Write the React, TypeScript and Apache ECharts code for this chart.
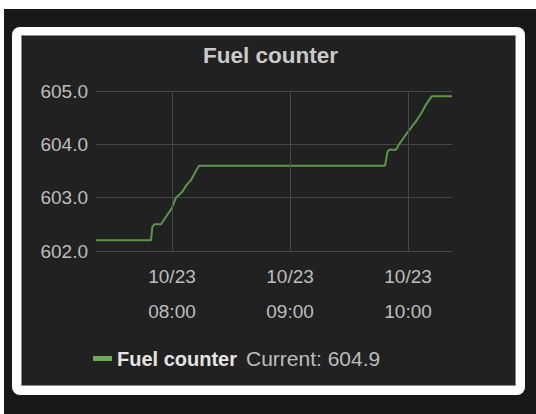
import React, { useEffect, useRef } from "react";
import * as echarts from "echarts";

const DATE = "2023-10-23";
const SERIES_NAME = "Fuel counter";
const times = [
  "07:21:22", "07:49:18", "07:50:00", "07:51:00", "07:54:24", "07:57:18", "07:59:51",
  "08:02:00", "08:05:00", "08:07:28", "08:09:40", "08:11:42", "08:13:44", "09:48:18",
  "09:49:30", "09:50:20", "09:53:54", "09:55:06", "09:57:18", "09:59:18", "10:01:54",
  "10:04:24", "10:07:00", "10:09:12", "10:12:00", "10:22:20",
];
const values = [
  602.2, 602.2, 602.45, 602.5, 602.5, 602.66, 602.8,
  603.0, 603.1, 603.24, 603.33, 603.47, 603.6, 603.6,
  603.85, 603.9, 603.9, 603.98, 604.1, 604.2, 604.33,
  604.45, 604.6, 604.75, 604.9, 604.9,
];
const hourTicks = ["08:00", "09:00", "10:00"];
const yMin = 602;
const yMax = 605;
const yInterval = 1;

const toMs = (t: string) => new Date(`${DATE}T${t}`).getTime();
const pad = (n: number) => String(n).padStart(2, "0");
const FONT = "Liberation Sans, Arial, sans-serif";

export default function App() {
  const ref = useRef<HTMLDivElement>(null);
  useEffect(() => {
    if (!ref.current) return;
    const chart = echarts.init(ref.current, null, { renderer: "svg" });
    const data = times.map((t, i) => [toMs(t), values[i]]);
    const last = values[values.length - 1];
    chart.setOption({
      animation: false,
      backgroundColor: "transparent",
      title: {
        text: SERIES_NAME,
        left: 203,
        top: 44,
        padding: 0,
        textStyle: { color: "#cacaca", fontSize: 22.5, fontWeight: "bold", fontFamily: FONT },
      },
      grid: { left: 96, right: 84, top: 91, bottom: 163 },
      legend: {
        data: [SERIES_NAME],
        left: 93,
        top: 348,
        padding: 0,
        icon: "rect",
        itemWidth: 19,
        itemHeight: 5,
        itemGap: 6,
        selectedMode: false,
        formatter: (name: string) => `{b|${name}}{c|Current: ${last.toFixed(1)}}`,
        textStyle: {
          fontFamily: FONT,
          rich: {
            b: { fontSize: 20, fontWeight: "bold", color: "#e4e4e4", fontFamily: FONT },
            c: { fontSize: 21, color: "#bdbdbd", padding: [0, 0, 0, 9], fontFamily: FONT },
          },
        },
      },
      xAxis: {
        type: "time",
        min: toMs(times[0]),
        max: toMs(times[times.length - 1]),
        minInterval: 3600 * 1000,
        maxInterval: 3600 * 1000,
        axisLine: { show: false },
        axisTick: { show: false },
        splitLine: { show: false },
        axisLabel: {
          color: "#bdbdbd",
          fontSize: 19,
          lineHeight: 35,
          margin: 8,
          hideOverlap: false,
          fontFamily: FONT,
          formatter: (v: number) => {
            const d = new Date(v);
            if (d.getMinutes() !== 0 || d.getSeconds() !== 0) return "";
            return `${pad(d.getMonth() + 1)}/${pad(d.getDate())}\n${pad(d.getHours())}:00`;
          },
        },
      },
      yAxis: {
        type: "value",
        min: yMin,
        max: yMax,
        interval: yInterval,
        axisLine: { show: false },
        axisTick: { show: false },
        splitLine: { lineStyle: { color: "#474747", width: 1 } },
        axisLabel: {
          color: "#bdbdbd",
          fontSize: 19,
          margin: 8,
          fontFamily: FONT,
          formatter: (v: number) => v.toFixed(1),
        },
      },
      series: [
        {
          name: SERIES_NAME,
          type: "line",
          data,
          showSymbol: false,
          symbol: "none",
          color: "#6cae58",
          lineStyle: { color: "#5a9846", width: 2 },
          markLine: {
            silent: true,
            symbol: "none",
            label: { show: false },
            lineStyle: { color: "#474747", width: 1, type: "solid" },
            data: hourTicks.map((h) => ({ xAxis: toMs(`${h}:00`) })),
          },
          z: 3,
        },
      ],
    });
    return () => chart.dispose();
  }, []);

  return (
    <div style={{ position: "fixed", left: 0, top: 0, width: 536, height: 414, background: "#ffffff", overflow: "hidden" }}>
      <div style={{ position: "absolute", left: 4, top: 9, right: 0, bottom: 0, background: "#181818" }} />
      <div style={{ position: "absolute", left: 12, top: 27, width: 513, height: 368, background: "#ffffff", borderRadius: 8 }} />
      <div style={{ position: "absolute", left: 22, top: 36, width: 493, height: 349, background: "#212121", boxShadow: "0 0 0 1px #8a8a8a" }} />
      <div ref={ref} style={{ position: "absolute", left: 0, top: 0, width: 536, height: 414 }} />
    </div>
  );
}
